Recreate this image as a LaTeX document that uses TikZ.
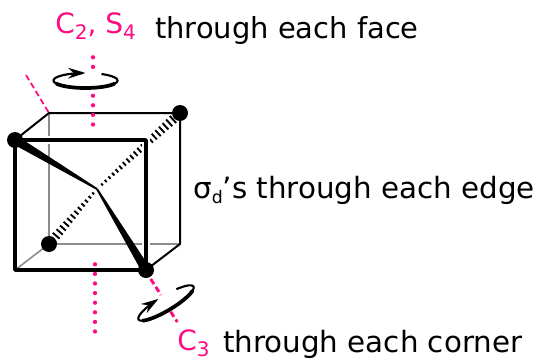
\documentclass[tikz,border=0pt]{standalone}
\usepackage{xcolor}
\usepackage{fontspec}
\setmainfont{DejaVu Sans}
\usetikzlibrary{
  arrows.meta,
  calc
}
\definecolor{symPink}{HTML}{FF0A80}
\definecolor{symGray}{HTML}{8C8C8C}
\newcommand{\lowsub}[1]{\raisebox{-0.2em}{\fontsize{15}{15}\selectfont #1}}
\tikzset{
  symtext/.style={anchor=base west, inner sep=0pt, font=\fontsize{22}{26}\selectfont},
  symlabel/.style={symtext, text=symPink, font=\fontsize{21}{25}\selectfont},
  atom/.style={circle, fill=black, inner sep=0pt, minimum size=12pt},
  frontedge/.style={line width=2.6pt, line cap=round, line join=round},
  backedge/.style={line width=1.5pt, line join=round},
  hiddenedge/.style={line width=1.2pt, symGray},
  halo/.style={line width=6pt, white},
  wedgebond/.style={fill=black},
  tick/.style={line width=1.4pt},
  axisdots/.style={symPink, line width=3.2pt, line cap=round, dash pattern=on 0pt off 7.2pt},
  axisdash/.style={symPink, line width=1.3pt, dash pattern=on 4.5pt off 2.5pt},
  axisdashb/.style={symPink, line width=2.2pt, dash pattern=on 4.5pt off 2.5pt},
  ringline/.style={line width=1.6pt, -{Stealth[length=13pt,width=8pt]}},
  ringthick/.style={line width=2.8pt, line cap=round},
  pics/spinring/.style={
    code={
      \draw[ringline] plot[smooth, domain=-60:#1, samples=40] ({32*cos(\x)},{7.5*sin(\x)});
      \draw[ringthick] plot[smooth, domain=25:155, samples=20] ({32*cos(\x)},{7.5*sin(\x)});
    }
  }
}
\begin{document}
\begin{tikzpicture}[x=.75pt, y=-.75pt]
  \useasboundingbox (0,0) rectangle (538,360);
  \coordinate (ftl) at (15,140); \coordinate (ftr) at (146,140);
  \coordinate (fbl) at (15,270); \coordinate (fbr) at (146,270);
  \coordinate (btl) at (49,113); \coordinate (btr) at (180,113);
  \coordinate (bbl) at (49,244); \coordinate (bbr) at (180,244);
  \coordinate (ctr) at (97,189);
  \coordinate (topa) at (93,57.3); \coordinate (topb) at (93,67);
  \coordinate (topc) at (93,95.7); \coordinate (topd) at (93,125);
  \coordinate (bota) at (95,264.3); \coordinate (botb) at (95,332);
  \coordinate (diaga) at (26,75);
  \coordinate (cthreea) at (150.7,279); \coordinate (cthreeb) at (161,295);
  \coordinate (cthreec) at (170.7,311.7); \coordinate (cthreed) at (177.3,322);

  \draw[hiddenedge] (btl) -- (bbl) -- (bbr);
  \draw[hiddenedge] (fbl) -- (bbl);
  \foreach \t in {.06,.105,...,1.0}{
    \coordinate (h) at ($(ctr)!\t!(btr)$);
    \draw[tick] ($(h)!{(.8+3.0*\t)*1pt}!90:(btr)$) -- ($(h)!{(.8+3.0*\t)*1pt}!-90:(btr)$);
  }
  \foreach \t in {.08,.15,...,1.0}{
    \coordinate (h) at ($(ctr)!\t!(bbl)$);
    \draw[tick] ($(h)!{(.8+3.0*\t)*1pt}!90:(bbl)$) -- ($(h)!{(.8+3.0*\t)*1pt}!-90:(bbl)$);
  }
  \draw[backedge] (ftl) -- (btl) -- (btr) -- (bbr) -- (fbr);
  \draw[halo] (ftl) -- (ftr) -- (fbr);
  \draw[frontedge] (ftl) -- (ftr) -- (fbr) -- (fbl) -- cycle;
  \draw[axisdots] (topa) -- (topb);
  \draw[axisdots] (topc) -- (topd);
  \draw[axisdots] (bota) -- (botb);
  \draw[axisdash] (diaga) -- (btl);
  \draw[axisdashb] (cthreea) -- (cthreeb);
  \draw[axisdashb] (cthreec) -- (cthreed);

  \node[atom] (atoma) at (ftl) {};
  \node[atom] (atomb) at (btr) {};
  \node[atom] (atomc) at (bbl) {};
  \node[atom] (atomd) at (fbr) {};
  \fill[wedgebond] ($(ctr)!.7pt!90:(atoma)$) -- ($(atoma)!3.4pt!-90:(ctr)$) -- ($(atoma)!3.4pt!90:(ctr)$) -- ($(ctr)!.7pt!-90:(atoma)$) -- cycle;
  \fill[wedgebond] ($(ctr)!.7pt!90:(atomd)$) -- ($(atomd)!3.4pt!-90:(ctr)$) -- ($(atomd)!3.4pt!90:(ctr)$) -- ($(ctr)!.7pt!-90:(atomd)$) -- cycle;

  \pic at (85.5,80.5) {spinring=270};
  \pic[rotate=31] at (166,303) {spinring=262};

  \node[symlabel] (lblface) at (55,33.5) {C\lowsub{2}, S\lowsub{4}};
  \node[symtext, font=\fontsize{21.7}{26}\selectfont] (txtface) at (155,39) {through each face};
  \node[symtext] (txtedge) at (193,198) {σ\lowsub{\fontsize{13}{13}\selectfont d}’s through each edge};
  \node[symlabel] (lblcorner) at (177,350.5) {C\lowsub{3}};
  \node[symtext] (txtcorner) at (223,352.5) {through each corner};
\end{tikzpicture}
\end{document}
